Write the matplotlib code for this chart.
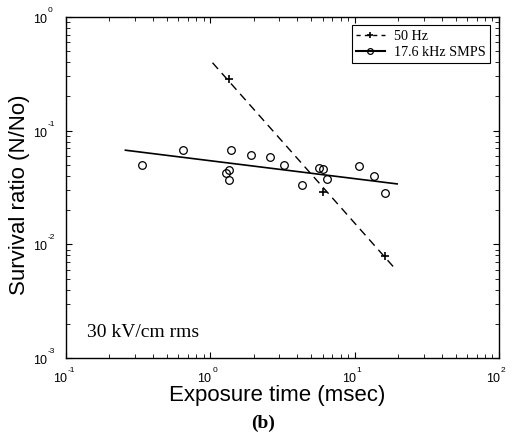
import matplotlib
matplotlib.use('Agg')
import matplotlib.pyplot as plt
from matplotlib.ticker import LogLocator, NullFormatter

# 17.6 kHz SMPS data (circles)
smps_time = [0.337, 0.648, 1.38, 1.35, 1.29, 1.35, 1.90, 2.57, 3.24, 4.35,
             5.70, 6.04, 6.43, 10.8, 13.7, 16.1]
smps_ratio = [0.0497, 0.0673, 0.0673, 0.0448, 0.0422, 0.0366, 0.0608, 0.059,
              0.0497, 0.0333, 0.0473, 0.0457, 0.0374, 0.0489, 0.040, 0.0285]

# 50 Hz data (plus)
hz50_time = [1.35, 6.04, 16.1]
hz50_ratio = [0.287, 0.0287, 0.00796]

# fitted lines (end points)
fit50_time = [1.035, 19.4]
fit50_ratio = [0.396, 0.00595]
fitsmps_time = [0.258, 19.7]
fitsmps_ratio = [0.0673, 0.034]

# decade tick labels
x_exponents = [-1, 0, 1, 2]
y_exponents = [-3, -2, -1, 0]

fig = plt.figure(figsize=(5.13, 4.37), dpi=100)
ax = fig.add_axes([0.1287, 0.1808, 0.844, 0.7803])

ax.plot(fit50_time, fit50_ratio, color='black', lw=1, ls=(0, (6, 4)))
ax.plot(fitsmps_time, fitsmps_ratio, color='black', lw=1.2)
ax.plot(hz50_time, hz50_ratio, ls='none', marker='+', ms=6, mew=1.2, color='black')
ax.plot(smps_time, smps_ratio, ls='none', marker='o', ms=5.5, mfc='none',
        mec='black', mew=0.9)

# legend proxies
l1, = ax.plot([], [], color='black', lw=1, ls=(0, (3, 3)), marker='+', ms=6, mew=1.2)
l2, = ax.plot([], [], color='black', lw=1.5, marker='o', ms=5.5, mfc='none', mew=0.9)
leg = ax.legend([l1, l2], ['50 Hz', '17.6 kHz SMPS'], loc='upper right',
                prop={'family': 'Liberation Serif', 'size': 10.2}, fancybox=False,
                edgecolor='black', framealpha=1, handlelength=2.0, markerscale=0.75,
                borderpad=0.3, labelspacing=0.2, borderaxespad=0.6, handletextpad=0.7)
leg.get_frame().set_linewidth(0.8)

ax.set_xscale('log')
ax.set_yscale('log')
ax.set_xlim(0.1, 100)
ax.set_ylim(0.001, 1)

ax.xaxis.set_minor_locator(LogLocator(base=10, subs=range(2, 10)))
ax.yaxis.set_minor_locator(LogLocator(base=10, subs=range(2, 10)))
ax.xaxis.set_major_formatter(NullFormatter())
ax.yaxis.set_major_formatter(NullFormatter())
ax.xaxis.set_minor_formatter(NullFormatter())
ax.yaxis.set_minor_formatter(NullFormatter())
ax.tick_params(which='both', direction='in', top=True, right=True)
ax.tick_params(which='major', length=4.5, width=0.8)
ax.tick_params(which='minor', length=3, width=0.6)
for s in ax.spines.values():
    s.set_linewidth(1.0)

# "10" with a raised exponent, like the original
lab = dict(family='Liberation Sans', textcoords='offset pixels', annotation_clip=False,
           va='baseline')
for e in x_exponents:
    ax.annotate('10', xy=(10.0 ** e, 0), xycoords=('data', 'axes fraction'),
                xytext=(1, -24), ha='right', fontsize=9, **lab)
    ax.annotate(str(e), xy=(10.0 ** e, 0), xycoords=('data', 'axes fraction'),
                xytext=(2, -14), ha='left', fontsize=6, **lab)
for e in y_exponents:
    ax.annotate('10', xy=(0, 10.0 ** e), xycoords=('axes fraction', 'data'),
                xytext=(-19, -6), ha='right', fontsize=9, **lab)
    ax.annotate(str(e), xy=(0, 10.0 ** e), xycoords=('axes fraction', 'data'),
                xytext=(-18, 5), ha='left', fontsize=6, **lab)

ax.set_xlabel('Exposure time (msec)', family='Liberation Sans', fontsize=16)
ax.set_ylabel('Survival ratio (N/No)', family='Liberation Sans', fontsize=16)
ax.xaxis.set_label_coords(0.487, -0.078)
ax.yaxis.set_label_coords(-0.083, 0.479)

ax.text(0.048, 0.075, '30 kV/cm rms', transform=ax.transAxes, family='Liberation Serif',
        fontsize=14, va='center', ha='left')
fig.text(0.512, 0.032, '(b)', family='Liberation Serif', fontweight='bold', fontsize=14,
         ha='center', va='center')

fig.savefig('out.png', dpi=100)
